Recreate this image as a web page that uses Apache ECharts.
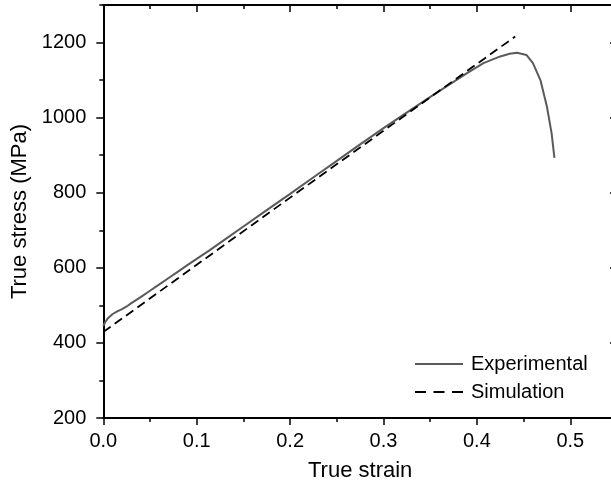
<!DOCTYPE html>
<html>
<head>
<meta charset="utf-8">
<script src="https://cdn.jsdelivr.net/npm/echarts@6/dist/echarts.min.js"></script>
<style>html,body{margin:0;padding:0;background:#fff;overflow:hidden}#c{width:611px;height:488px}</style>
</head>
<body>
<div id="c"></div>
<script>
// Data
var expStrain = [0.000,0.002,0.005,0.010,0.015,0.020,0.025,0.030,0.040,0.050,0.060,0.070,0.080,0.090,0.100,0.114,0.130,0.150,0.170,0.200,0.230,0.250,0.270,0.300,0.318,0.353,0.389,0.407,0.425,0.435,0.443,0.453,0.460,0.468,0.475,0.480,0.483];
var expStress = [445,455,466,477,484,490,497,506,522,539,556,573,590,607,624,647,675,710,745,797,850,885,920,972,1002,1060,1118,1145,1163,1170,1173,1167,1145,1100,1029,958,893];
var simStrain = [0.000,0.100,0.200,0.300,0.400,0.441];
var simStress = [429,608,787,965,1143,1216];
var xTicks = [0.0,0.1,0.2,0.3,0.4,0.5];
var yTicks = [200,400,600,800,1000,1200];

var FONT = 'Liberation Sans, Arial, sans-serif';
function zip(a,b){return a.map(function(v,i){return [v,b[i]];});}

var X0 = 0, X1 = 0.55, Y0 = 200, Y1 = 1300;
function xAx(pos, interval, len, inside, main){
  return {
    type:'value', position:pos, min:X0, max:X1, interval:interval,
    axisLine:{show:!!main, onZero:false, lineStyle:{color:'#000', width:2}},
    axisTick:{show:true, inside:inside, length:len, lineStyle:{color:'#000', width:1.5}},
    axisLabel:{show:!!(main && pos==='bottom'), margin:13, fontSize:20, color:'#000', fontFamily:FONT, showMaxLabel:false,
      formatter:function(v){return v.toFixed(1);}},
    splitLine:{show:false},
    name:(main && pos==='bottom') ? 'True strain' : '',
    nameLocation:'middle', nameGap:42,
    nameTextStyle:{fontSize:22, color:'#000', fontFamily:FONT}
  };
}
function yAx(pos, interval, len, inside, main){
  return {
    type:'value', position:pos, min:Y0, max:Y1, interval:interval,
    axisLine:{show:!!(main && pos==='left'), onZero:false, lineStyle:{color:'#000', width:2}},
    axisTick:{show:true, inside:inside, length:len, lineStyle:{color:'#000', width:1.5}},
    axisLabel:{show:!!(main && pos==='left'), margin:17, fontSize:20, color:'#000', fontFamily:FONT, showMaxLabel:false,
      formatter:function(v){return String(v);}},
    splitLine:{show:false},
    name:(main && pos==='left') ? 'True stress (MPa)' : '',
    nameLocation:'middle', nameGap:52, nameRotate:90,
    nameTextStyle:{fontSize:22, color:'#000', fontFamily:FONT}
  };
}

var chart = echarts.init(document.getElementById('c'), null, {renderer:'canvas'});
chart.setOption({
  backgroundColor:'#fff',
  animation:false,
  grid:{left:103.3, top:5, right:-6, bottom:70, containLabel:false, outerBoundsMode:'none'},
  xAxis:[
    xAx('bottom',0.1,7,false,true),
    xAx('bottom',0.05,4,false,false),
    xAx('top',0.1,7,true,true),
    xAx('top',0.05,4,true,false)
  ],
  yAxis:[
    yAx('left',200,7,false,true),
    yAx('left',100,4,false,false),
    yAx('right',200,7,true,true),
    yAx('right',100,4,true,false)
  ],
  legend:{
    orient:'vertical', left:410, top:349, itemWidth:48, itemHeight:2, itemGap:8,
    textStyle:{fontSize:20, color:'#000', fontFamily:FONT, padding:[0,0,0,3], lineHeight:20},
    data:[
      {name:'Experimental', icon:'path://M0,0H48V2H0Z'},
      {name:'Simulation', icon:'path://M0,0H11V2H0Z M18.5,0H29.5V2H18.5Z M37,0H48V2H37Z'}
    ]
  },
  series:[
    {name:'Experimental', type:'line', data:zip(expStrain,expStress), symbol:'none', showSymbol:false,
     lineStyle:{color:'#5a5a5a', width:2}, itemStyle:{color:'#5a5a5a'}},
    {name:'Simulation', type:'line', data:zip(simStrain,simStress), symbol:'none', showSymbol:false,
     lineStyle:{color:'#000', width:1.8, type:[9,5]}, itemStyle:{color:'#000'}}
  ]
});
</script>
</body>
</html>
